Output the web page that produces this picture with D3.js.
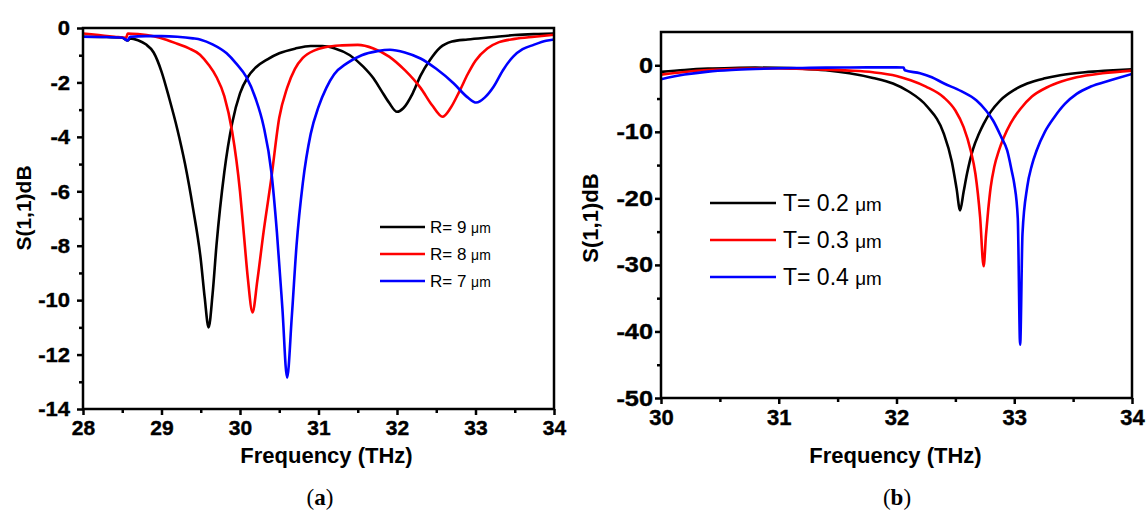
<!DOCTYPE html>
<html>
<head>
<meta charset="utf-8">
<script src="https://cdn.jsdelivr.net/npm/d3@7"></script>
<style>
  html, body { margin: 0; padding: 0; background: #fff; }
  svg { display: block; }
</style>
</head>
<body>
<svg id="chart" width="1148" height="515"></svg>
<script>
// Reflection spectra S(1,1) in dB, [frequency THz, dB]

// (a) ring radius sweep
const seriesR9 = [
  [28.0,-0.32],[28.3,-0.33],[28.5,-0.36],[28.57,-0.46],[28.6,-0.38],[28.7,-0.45],[28.8,-0.6],
  [28.9,-0.9],[29.0,-1.6],[29.1,-2.6],[29.2,-3.7],[29.3,-5.0],[29.4,-6.6],[29.5,-8.5],
  [29.55,-9.9],[29.6,-11.0],[29.65,-9.8],[29.7,-8.0],[29.8,-5.3],[29.9,-3.5],[30.0,-2.4],
  [30.1,-1.8],[30.2,-1.45],[30.35,-1.15],[30.5,-0.93],[30.7,-0.76],[30.9,-0.66],[31.05,-0.66],
  [31.2,-0.74],[31.4,-1.0],[31.57,-1.42],[31.7,-1.85],[31.8,-2.3],[31.9,-2.75],[32.0,-3.08],
  [32.08,-2.95],[32.2,-2.4],[32.3,-1.75],[32.42,-1.18],[32.55,-0.72],[32.7,-0.5],[32.9,-0.42],
  [33.2,-0.34],[33.5,-0.26],[33.8,-0.22],[34.0,-0.2]
];
const seriesR8 = [
  [28.0,-0.2],[28.2,-0.26],[28.4,-0.32],[28.55,-0.36],[28.57,-0.2],[28.7,-0.22],[28.9,-0.3],
  [29.07,-0.44],[29.2,-0.58],[29.35,-0.75],[29.49,-0.98],[29.6,-1.35],[29.7,-1.8],[29.8,-2.5],
  [29.9,-3.8],[30.0,-6.0],[30.05,-7.6],[30.1,-9.2],[30.16,-10.45],[30.22,-9.3],[30.3,-7.5],
  [30.4,-5.5],[30.5,-3.3],[30.6,-2.2],[30.7,-1.5],[30.8,-1.1],[30.95,-0.82],[31.1,-0.7],
  [31.3,-0.64],[31.5,-0.62],[31.7,-0.75],[31.9,-1.05],[32.1,-1.55],[32.3,-2.2],[32.45,-2.85],
  [32.58,-3.26],[32.68,-2.95],[32.8,-2.3],[32.9,-1.7],[33.0,-1.2],[33.15,-0.75],[33.3,-0.52],
  [33.5,-0.4],[33.75,-0.32],[34.0,-0.25]
];
const seriesR7 = [
  [28.0,-0.32],[28.3,-0.33],[28.5,-0.36],[28.57,-0.46],[28.6,-0.32],[28.8,-0.3],[29.0,-0.3],
  [29.2,-0.32],[29.4,-0.38],[29.5,-0.43],[29.65,-0.6],[29.83,-0.93],[29.95,-1.3],[30.08,-1.8],
  [30.2,-2.6],[30.3,-3.6],[30.4,-5.3],[30.47,-7.5],[30.54,-10.3],[30.6,-12.85],[30.66,-10.6],
  [30.72,-8.0],[30.8,-5.7],[30.9,-3.9],[31.0,-2.9],[31.1,-2.2],[31.2,-1.7],[31.36,-1.3],
  [31.55,-1.0],[31.75,-0.85],[31.91,-0.8],[32.1,-0.9],[32.3,-1.12],[32.5,-1.5],[32.72,-2.03],
  [32.9,-2.55],[33.01,-2.74],[33.12,-2.55],[33.23,-2.16],[33.35,-1.55],[33.48,-1.05],
  [33.6,-0.78],[33.74,-0.62],[33.9,-0.47],[34.0,-0.42]
];

// (b) thickness sweep
const seriesT02 = [
  [30.0,-1.0],[30.2,-0.7],[30.4,-0.5],[30.6,-0.4],[30.8,-0.35],[31.0,-0.38],[31.2,-0.5],
  [31.4,-0.75],[31.6,-1.2],[31.8,-1.9],[31.97,-2.75],[32.1,-3.9],[32.26,-6.2],[32.4,-10.2],
  [32.47,-14.5],[32.51,-18.5],[32.54,-21.8],[32.57,-19.0],[32.6,-16.2],[32.65,-12.6],
  [32.7,-10.3],[32.74,-8.8],[32.8,-7.0],[32.88,-5.3],[33.0,-3.7],[33.11,-2.75],[33.25,-2.0],
  [33.39,-1.5],[33.6,-1.05],[33.8,-0.8],[34.0,-0.6]
];
const seriesT03 = [
  [30.0,-1.4],[30.2,-1.0],[30.4,-0.72],[30.6,-0.55],[30.8,-0.48],[31.0,-0.48],[31.2,-0.55],
  [31.4,-0.65],[31.6,-0.8],[31.8,-1.05],[32.0,-1.6],[32.12,-2.25],[32.25,-3.2],[32.4,-4.8],
  [32.5,-6.8],[32.57,-9.3],[32.63,-12.8],[32.67,-16.3],[32.71,-22.8],[32.74,-30.2],
  [32.76,-25.5],[32.78,-21.5],[32.8,-18.3],[32.83,-15.3],[32.87,-12.8],[32.91,-10.9],
  [32.97,-8.7],[33.05,-6.6],[33.15,-4.7],[33.28,-3.3],[33.4,-2.45],[33.53,-1.8],[33.75,-1.2],
  [34.0,-0.8]
];
const seriesT04 = [
  [30.0,-2.1],[30.2,-1.4],[30.4,-0.95],[30.6,-0.7],[30.8,-0.55],[31.0,-0.45],[31.2,-0.4],
  [31.4,-0.35],[31.6,-0.33],[31.8,-0.32],[32.0,-0.32],[32.06,-0.33],[32.07,-0.75],[32.2,-1.2],
  [32.3,-1.8],[32.4,-2.7],[32.55,-3.9],[32.68,-5.3],[32.76,-6.8],[32.82,-8.3],[32.89,-10.8],
  [32.94,-12.8],[32.98,-16.0],[33.0,-17.8],[33.03,-23.0],[33.05,-42.0],[33.07,-25.3],
  [33.11,-18.3],[33.15,-15.0],[33.19,-12.8],[33.26,-10.0],[33.34,-7.8],[33.43,-5.8],
  [33.53,-4.3],[33.65,-3.2],[33.81,-2.3],[34.0,-1.3]
];

const legendA = ["R= 9 ", "R= 8 ", "R= 7 "];
const legendB = ["T= 0.2 ", "T= 0.3 ", "T= 0.4 "];
const colors = ["#000000", "#ff0000", "#0000ff"];

const ticksAx = [28, 29, 30, 31, 32, 33, 34];
const ticksAy = [0, -2, -4, -6, -8, -10, -12, -14];
const ticksBx = [30, 31, 32, 33, 34];
const ticksBy = [0, -10, -20, -30, -40, -50];

const svg = d3.select("#chart");
const SANS = "'Liberation Sans', Arial, sans-serif";
const plain = d => String(d);   // keep an ASCII hyphen for negatives

function panel(cfg) {
  const g = svg.append("g");
  const x = d3.scaleLinear().domain(cfg.xDomain).range([cfg.left, cfg.right]);
  const y = d3.scaleLinear().domain(cfg.yDomain).range([cfg.bottom, cfg.top]);

  // heavy, slightly widened tick labels
  const styleTicks = (s, stretch) => {
    s.attr("font-family", SANS).attr("font-size", cfg.tickFont).attr("font-weight", "bold");
    s.select(".domain").remove();
    s.selectAll("line").attr("stroke-width", 2.5);
    s.selectAll("text")
      .attr("fill", "#000").attr("stroke", "#000").attr("stroke-width", 0.4)
      .each(function () {
        const w = this.getComputedTextLength();
        if (w > 0) {
          d3.select(this).attr("textLength", w * stretch).attr("lengthAdjust", "spacingAndGlyphs");
        }
      });
  };

  // minor ticks (unlabelled, shorter)
  const minorX = d3.range(cfg.xDomain[0] + cfg.xMinor, cfg.xDomain[1], cfg.xMinor * 2);
  const minorY = d3.range(cfg.yMinorStart, cfg.yDomain[1], cfg.yMinor * 2);
  g.append("g").attr("transform", `translate(0,${cfg.bottom})`)
    .call(d3.axisBottom(x).tickValues(minorX).tickSize(4).tickFormat(""))
    .call(styleTicks, 1);
  g.append("g").attr("transform", `translate(${cfg.left},0)`)
    .call(d3.axisLeft(y).tickValues(minorY).tickSize(4).tickFormat(""))
    .call(styleTicks, 1);

  // major ticks
  g.append("g").attr("transform", `translate(0,${cfg.bottom})`)
    .call(d3.axisBottom(x).tickValues(cfg.xTicks).tickSize(6).tickPadding(5).tickFormat(plain))
    .call(styleTicks, cfg.xStretch);
  g.append("g").attr("transform", `translate(${cfg.left},0)`)
    .call(d3.axisLeft(y).tickValues(cfg.yTicks).tickSize(6).tickPadding(cfg.yPad).tickFormat(plain))
    .call(styleTicks, cfg.yStretch);

  // curves
  const clipId = "clip" + cfg.id;
  g.append("clipPath").attr("id", clipId).append("rect")
    .attr("x", cfg.left).attr("y", cfg.top)
    .attr("width", cfg.right - cfg.left).attr("height", cfg.bottom - cfg.top);
  const line = d3.line().x(d => x(d[0])).y(d => y(d[1])).curve(d3.curveMonotoneX);
  cfg.series.forEach((s, i) => {
    g.append("path").datum(s)
      .attr("clip-path", `url(#${clipId})`)
      .attr("fill", "none").attr("stroke", colors[i])
      .attr("stroke-width", 2.6).attr("stroke-linejoin", "round")
      .attr("d", line);
  });

  // frame
  g.append("rect")
    .attr("x", cfg.left).attr("y", cfg.top)
    .attr("width", cfg.right - cfg.left).attr("height", cfg.bottom - cfg.top)
    .attr("fill", "none").attr("stroke", "#000").attr("stroke-width", 2.5);

  // legend
  const lg = cfg.legend;
  cfg.legendText.forEach((t, i) => {
    const yy = lg.y + i * lg.dy;
    g.append("line").attr("x1", lg.x1).attr("x2", lg.x2).attr("y1", yy).attr("y2", yy)
      .attr("stroke", colors[i]).attr("stroke-width", 2.6);
    const txt = g.append("text").attr("x", lg.tx).attr("y", yy + lg.font * 0.36)
      .attr("font-family", SANS).attr("font-size", lg.font).attr("fill", "#000");
    txt.append("tspan").text(t);
    txt.append("tspan").attr("font-size", lg.font * 0.82).text("\u03bcm");
  });

  // axis titles
  g.append("text")
    .attr("x", (cfg.left + cfg.right) / 2 + cfg.xTitleShift).attr("y", 463)
    .attr("text-anchor", "middle").attr("font-family", SANS).attr("font-weight", "bold")
    .attr("font-size", 22).text("Frequency (THz)");
  g.append("text")
    .attr("transform", `translate(${cfg.yTitleX},${cfg.yTitleY}) rotate(-90)`)
    .attr("text-anchor", "middle").attr("font-family", SANS).attr("font-weight", "bold")
    .attr("font-size", cfg.yTitleFont).text("S(1,1)dB");

  // panel label
  const lab = g.append("text")
    .attr("x", cfg.labelX).attr("y", 505).attr("text-anchor", "middle")
    .attr("font-family", "'Liberation Serif', 'DejaVu Serif', serif").attr("font-size", 23);
  lab.append("tspan").text("(");
  lab.append("tspan").attr("font-weight", "bold").text(cfg.label);
  lab.append("tspan").text(")");
}

panel({
  id: "a", left: 83, right: 554, top: 28, bottom: 409,
  xDomain: [28, 34], yDomain: [-14, 0],
  xTicks: ticksAx, yTicks: ticksAy, xMinor: 0.5, yMinor: 1, yMinorStart: -13,
  tickFont: 21, yPad: 7, xStretch: 1.0, yStretch: 1.05,
  series: [seriesR9, seriesR8, seriesR7],
  legendText: legendA,
  legend: { x1: 380, x2: 425, tx: 430, y: 227, dy: 27, font: 17 },
  xTitleShift: 8, yTitleX: 31, yTitleY: 208, yTitleFont: 21, labelX: 320, label: "a"
});

panel({
  id: "b", left: 661, right: 1132, top: 32, bottom: 398,
  xDomain: [30, 34], yDomain: [-50, 5],
  xTicks: ticksBx, yTicks: ticksBy, xMinor: 0.5, yMinor: 5, yMinorStart: -45,
  tickFont: 22, yPad: 2, xStretch: 1.0, yStretch: 1.15,
  series: [seriesT02, seriesT03, seriesT04],
  legendText: legendB,
  legend: { x1: 710, x2: 776, tx: 783, y: 203, dy: 37, font: 23 },
  xTitleShift: -1, yTitleX: 598, yTitleY: 218, yTitleFont: 22, labelX: 897, label: "b"
});
</script>
</body>
</html>
